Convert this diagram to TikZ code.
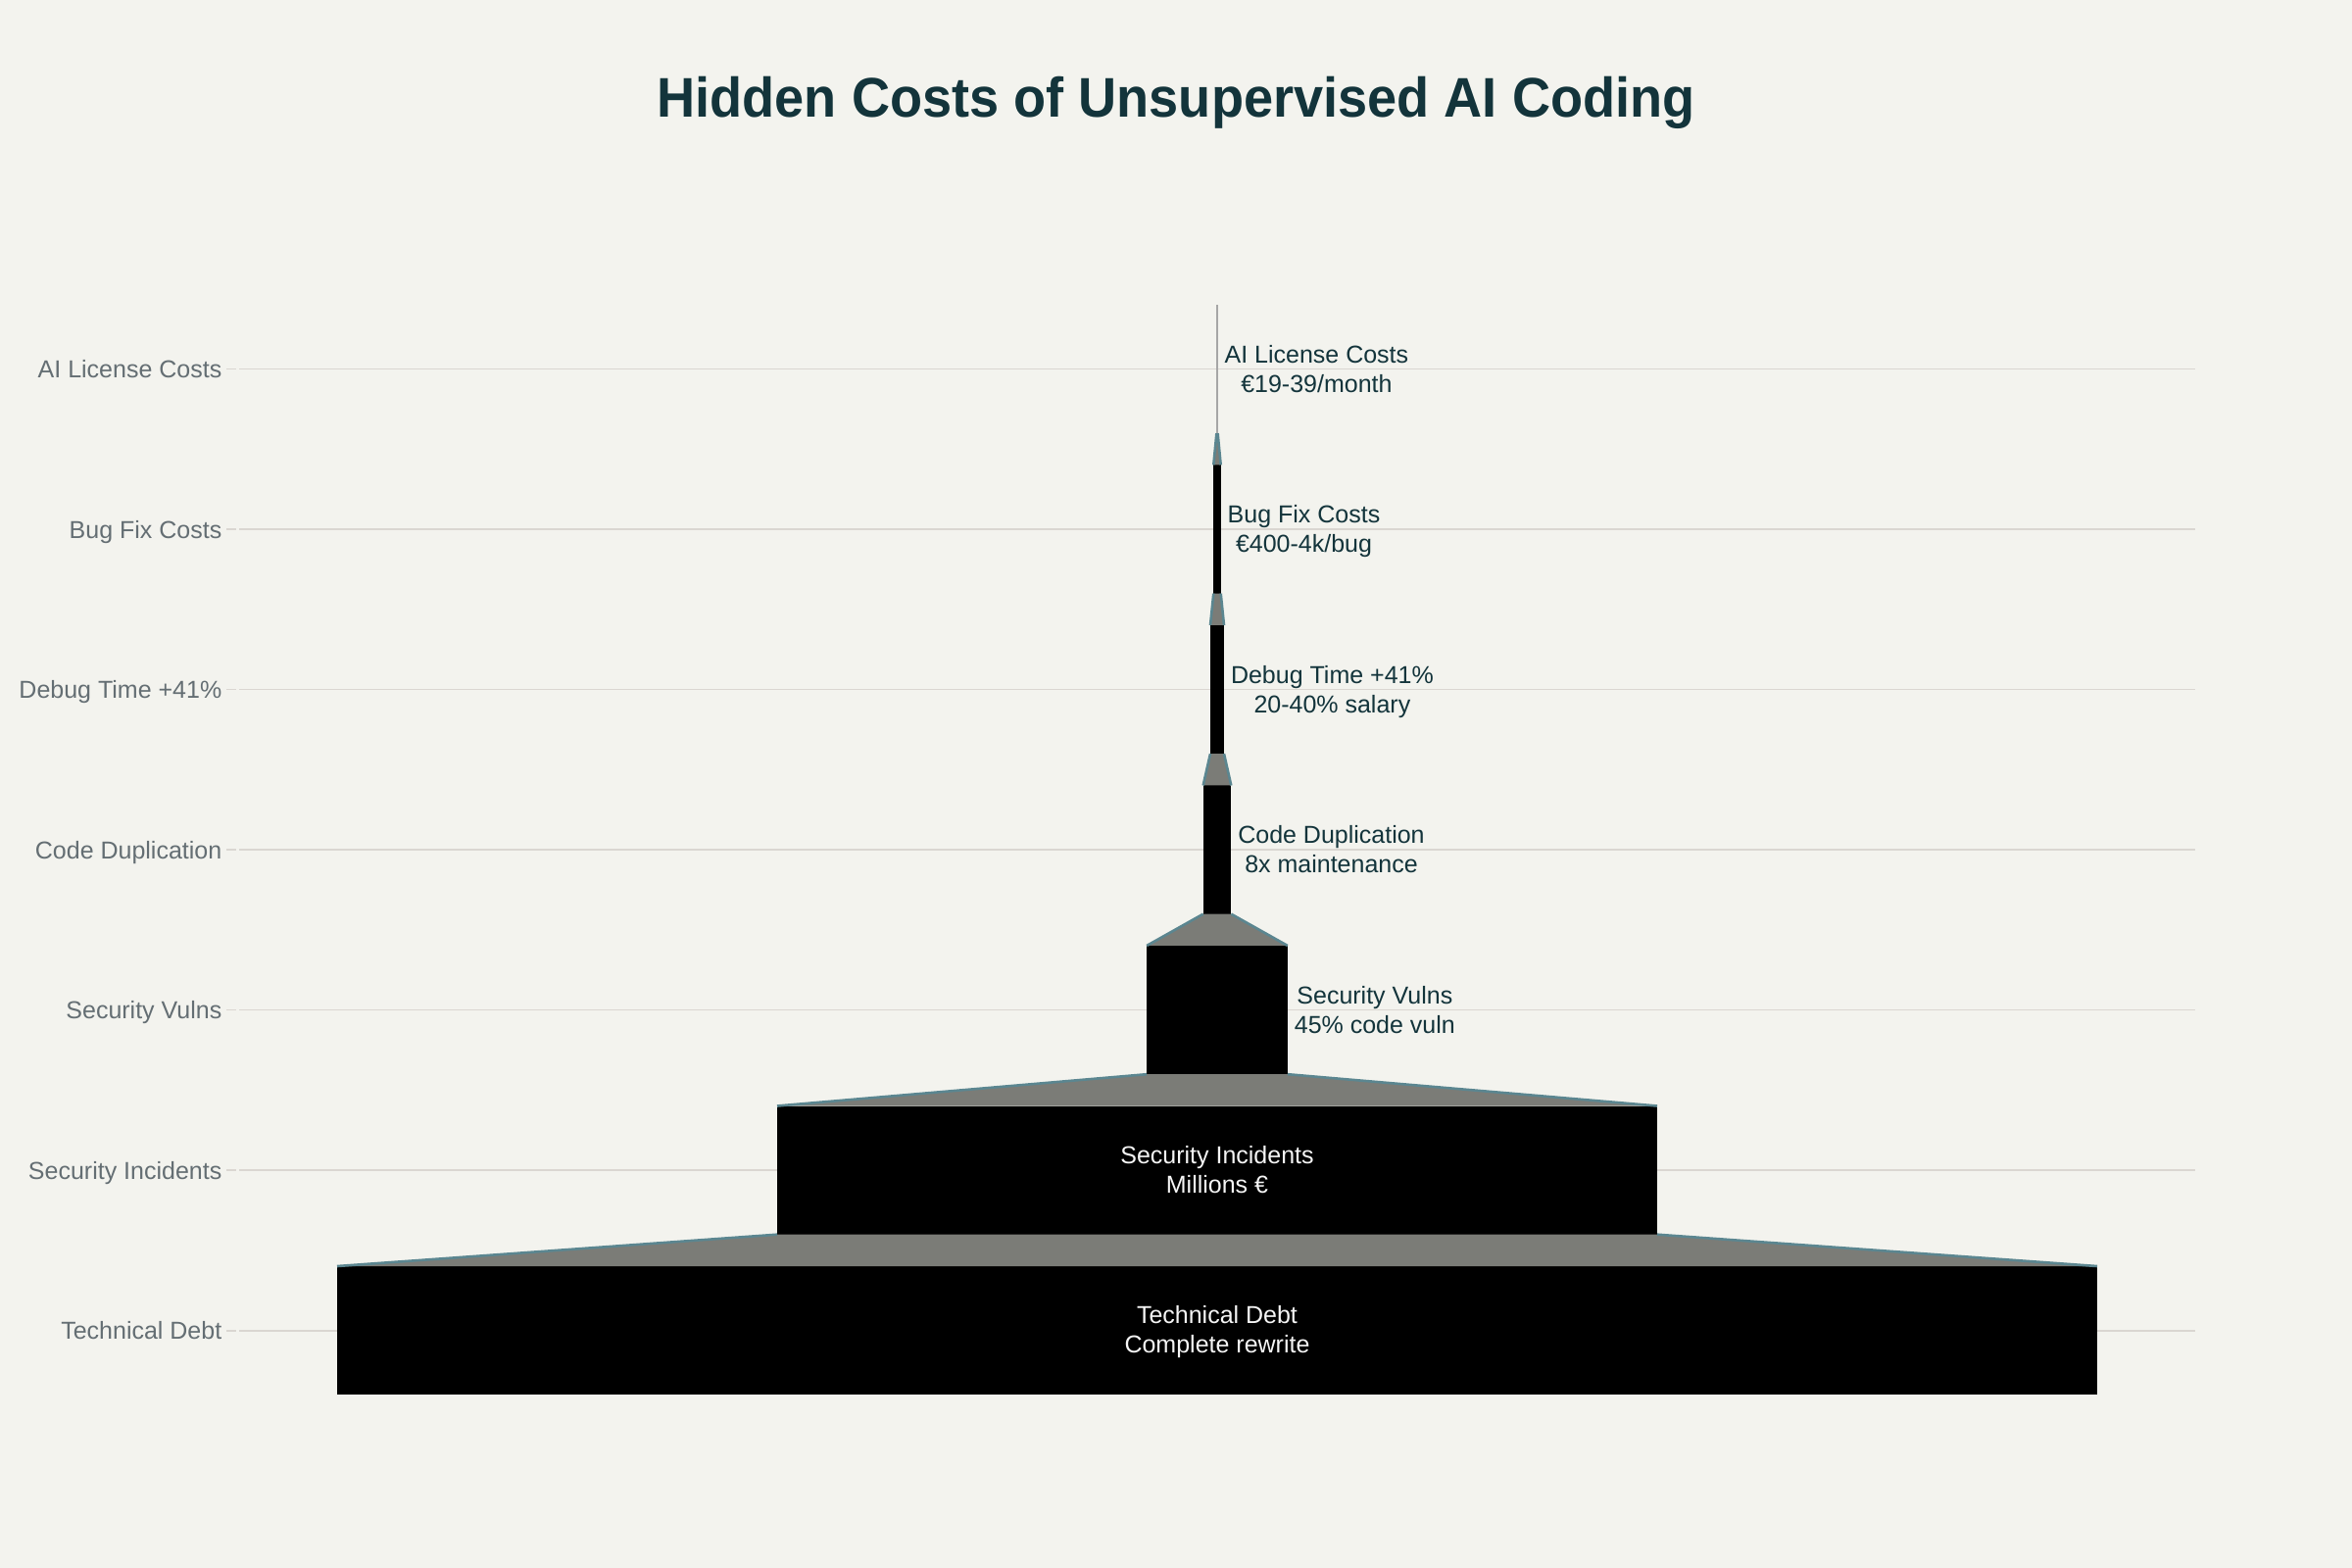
\documentclass[tikz,border=0pt]{standalone}
\usepackage{fontspec}
\setmainfont{Liberation Sans}
\usepackage{graphicx}
\definecolor{bgC}{HTML}{F3F3EE}
\definecolor{titleC}{HTML}{13343B}
\definecolor{axisC}{HTML}{646E73}
\definecolor{gridC}{HTML}{DAD6D1}
\definecolor{connGray}{HTML}{7B7C77}
\definecolor{tealEdge}{HTML}{5B8690}
\definecolor{inC}{HTML}{F5F5F5}
\newcommand\twoline[2]{\begin{tabular}[t]{@{}c@{}}#1\\#2\end{tabular}}
\begin{document}
\begin{tikzpicture}[x=0.5pt,y=-0.5pt,
  bar/.style={fill=black, inner sep=0pt, outer sep=0pt, minimum height=65.6pt, draw=none},
  conn/.style={fill=connGray},
  edgeline/.style={draw=tealEdge, line width=1.3pt},
  gridl/.style={draw=gridC, line width=0.9pt},
  axislab/.style={font=\fontsize{12.5}{15}\selectfont, text=axisC, inner sep=0pt, anchor=base east},
  vallab/.style={font=\fontsize{12.5}{15}\selectfont, text=titleC, inner sep=0pt, anchor=base west},
  inlab/.style={font=\fontsize{12.5}{15}\selectfont, text=inC, inner sep=0pt, anchor=base},
]
\useasboundingbox (0,0) rectangle (2400,1600);
\fill[bgC] (0,0) rectangle (2400,1600);

% title
\node[font=\bfseries\fontsize{28.5}{34}\selectfont, text=titleC, inner sep=0pt, anchor=base] (title) at (1200,119.3) {\scalebox{0.95}[1]{Hidden Costs of Unsupervised AI Coding}};

% grid lines and ticks
\foreach \yy in {376.5,540.02,703.54,867.06,1030.58,1194.1,1357.62} {
  \draw[gridl] (231,\yy) -- (241,\yy);
  \draw[gridl] (244,\yy) -- (2240,\yy);
}

% axis labels
\node[axislab] (a1) at (226.7,385.5) {AI License Costs};
\node[axislab] (a2) at (226.7,549.0) {Bug Fix Costs};
\node[axislab] (a3) at (226.7,712.5) {Debug Time +41\%};
\node[axislab] (a4) at (226.7,876.1) {Code Duplication};
\node[axislab] (a5) at (226.7,1039.6) {Security Vulns};
\node[axislab] (a6) at (226.7,1203.1) {Security Incidents};
\node[axislab] (a7) at (226.7,1366.6) {Technical Debt};

% bars
\node[bar, fill=black!35, minimum width=0.6pt] (b1) at (1242,376.5) {};
\node[bar, minimum width=3.7pt] (b2) at (1242,540.02) {};
\node[bar, minimum width=7pt] (b3) at (1242,703.54) {};
\node[bar, minimum width=14.3pt] (b4) at (1242,867.06) {};
\node[bar, minimum width=71.85pt] (b5) at (1242,1030.58) {};
\node[bar, minimum width=449pt] (b6) at (1242,1194.1) {};
\node[bar, minimum width=898pt] (b7) at (1242,1357.62) {};

% connectors
\foreach \u/\l in {b1/b2,b2/b3,b3/b4,b4/b5,b5/b6,b6/b7} {
  \fill[conn] (\u.south west) -- (\u.south east) -- (\l.north east) -- (\l.north west) -- cycle;
  \draw[edgeline] (\u.south west) -- (\l.north west);
  \draw[edgeline] (\u.south east) -- (\l.north east);
}

% value labels
\node[vallab] (v1) at ([xshift=3.3pt,yshift=3.25pt]b1.east) {\twoline{AI License Costs}{€19-39/month}};
\node[vallab] (v2) at ([xshift=3.3pt,yshift=3.25pt]b2.east) {\twoline{Bug Fix Costs}{€400-4k/bug}};
\node[vallab] (v3) at ([xshift=3.3pt,yshift=3.25pt]b3.east) {\twoline{Debug Time +41\%}{20-40\% salary}};
\node[vallab] (v4) at ([xshift=3.3pt,yshift=3.25pt]b4.east) {\twoline{Code Duplication}{8x maintenance}};
\node[vallab] (v5) at ([xshift=3.3pt,yshift=3.25pt]b5.east) {\twoline{Security Vulns}{45\% code vuln}};
\node[inlab] (v6) at ([yshift=3.5pt]b6.center) {\twoline{Security Incidents}{Millions €}};
\node[inlab] (v7) at ([yshift=3.5pt]b7.center) {\twoline{Technical Debt}{Complete rewrite}};
\end{tikzpicture}
\end{document}
